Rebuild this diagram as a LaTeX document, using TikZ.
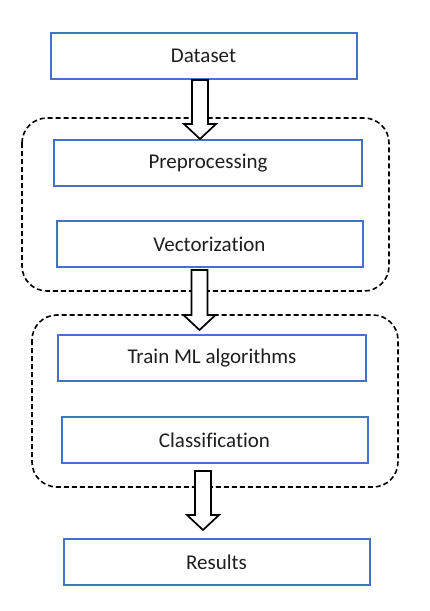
\documentclass[tikz,border=0pt]{standalone}
\usepackage{fontspec}
\setmainfont{Carlito}[Ligatures={NoCommon}]
\usetikzlibrary{positioning, calc}
\definecolor{boxblue}{RGB}{68,114,196}
\definecolor{inktext}{RGB}{30,30,30}

% hollow block arrow from a start point down to a tip
\newcommand{\fatarrow}[2]{%
  \draw[fatarrow] let \p1=(#1), \p2=(#2) in
    (\x1-8pt,\y1) -- (\x1-8pt,\y2+15pt) -- (\x1-16pt,\y2+15pt) -- (\x2,\y2)
    -- (\x1+16pt,\y2+15pt) -- (\x1+8pt,\y2+15pt) -- (\x1+8pt,\y1) -- cycle;}

\begin{document}
\begin{tikzpicture}[x=1pt, y=-1pt, font=\fontsize{21}{25}\selectfont,
    stage/.style={draw=boxblue, line width=2pt, minimum width=306pt, minimum height=46pt, inner sep=0pt, text=inktext},
    group/.style={draw, line width=1.6pt, dash pattern=on 5pt off 3pt, rounded corners=25pt},
    fatarrow/.style={draw, fill=white, line width=1.7pt, line join=miter}]
    \useasboundingbox (0,0) rectangle (429,611);

    % dashed groups
    \draw[group] (22,118) rectangle (389,291);
    \draw[group] (32,315) rectangle (398,487);

    % stages
    \node[stage] (data) at (203.5,56) {Dataset};
    \node[stage, minimum width=308pt] (pre) at (208,163) {Preprocessing};
    \node[stage] (vec) at (209.5,244) {Vectorization};
    \node[stage, minimum width=308pt] (train) at (212,358) {Train ML algorithms};
    \node[stage] (cls) at (214.5,440) {Classification};
    \node[stage] (res) at (216.5,562) {Results};

    % arrow ends
    \coordinate (a1) at (200,80);   \coordinate (t1) at (200,139);
    \coordinate (a2) at (199.5,270); \coordinate (t2) at (199.5,330);
    \coordinate (a3) at (203,471);  \coordinate (t3) at (203,530);

    \fatarrow{a1}{t1}
    \fatarrow{a2}{t2}
    \fatarrow{a3}{t3}
\end{tikzpicture}
\end{document}
